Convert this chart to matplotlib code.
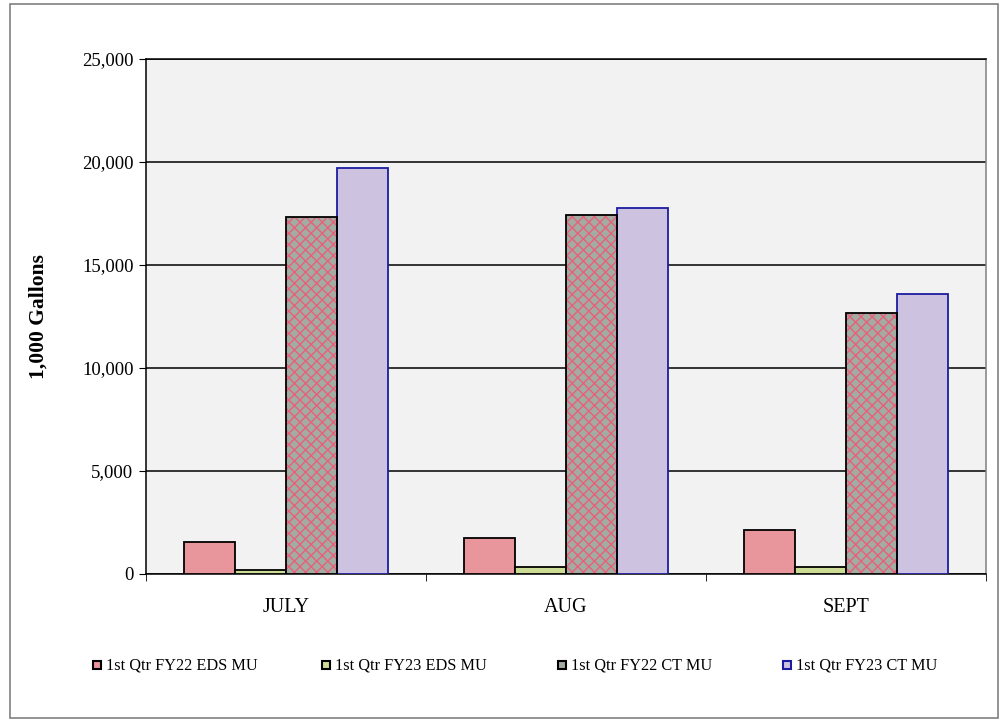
import numpy as np
import matplotlib
matplotlib.use("Agg")
import matplotlib.pyplot as plt
from matplotlib.patches import Rectangle

# Monthly usage, thousands of gallons
months = ["JULY", "AUG", "SEPT"]
series_names = ["1st Qtr FY22 EDS MU", "1st Qtr FY23 EDS MU",
                "1st Qtr FY22 CT MU", "1st Qtr FY23 CT MU"]
fy22_eds = [1570, 1760, 2130]
fy23_eds = [190, 350, 350]
fy22_ct = [17310, 17440, 12660]
fy23_ct = [19730, 17750, 13600]
y_ticks = [0, 5000, 10000, 15000, 20000, 25000]

plt.rcParams["font.family"] = ["Liberation Serif", "DejaVu Serif"]
plt.rcParams["hatch.linewidth"] = 1.0

fig = plt.figure(figsize=(10, 7.23), dpi=100)
fig.patch.set_facecolor("white")

# outer chart frame
fig.patches.append(Rectangle((10 / 1000, 1 - 718 / 723), 988 / 1000, 714 / 723,
                             transform=fig.transFigure, fill=False,
                             edgecolor="#808080", linewidth=1.2))

ax = fig.add_axes([0.146, 0.2061, 0.8397, 0.7123])
ax.set_facecolor("#f2f2f2")

x = np.arange(len(months))
bw = 0.182
offsets = (np.arange(4) - 1.5) * bw

styles = [
    dict(color="#e8969c", edgecolor="black", hatch=None, hatchcol=None),
    dict(color="#cddc94", edgecolor="black", hatch=None, hatchcol=None),
    dict(color="#a2aca2", edgecolor="black", hatch="xxx", hatchcol="#e8607a"),
    dict(color="#cdc3e0", edgecolor="#1c1ca0", hatch=None, hatchcol=None),
]
values = [fy22_eds, fy23_eds, fy22_ct, fy23_ct]

for vals, off, st in zip(values, offsets, styles):
    if st["hatch"]:
        ax.bar(x + off, vals, bw, color=st["color"], edgecolor=st["hatchcol"],
               hatch=st["hatch"], linewidth=0, zorder=3)
        ax.bar(x + off, vals, bw, fill=False, edgecolor=st["edgecolor"],
               linewidth=1.3, zorder=4)
    else:
        ax.bar(x + off, vals, bw, color=st["color"], edgecolor=st["edgecolor"],
               linewidth=1.3, zorder=3)

ax.set_xlim(-0.5, 2.5)
ax.set_ylim(0, 25000)
ax.set_yticks(y_ticks)
ax.set_yticklabels([f"{v:,}" for v in y_ticks], fontsize=13.5)
ax.yaxis.grid(True, color="black", linewidth=1.1, zorder=1)
ax.set_axisbelow(True)

ax.set_xticks(x)
ax.set_xticklabels(months, fontsize=14.5)
ax.tick_params(axis="x", length=0, pad=17)
ax.set_xticks([-0.5, 0.5, 1.5, 2.5], minor=True)
ax.tick_params(axis="x", which="minor", length=5, color="black")
ax.tick_params(axis="y", length=5, color="black", pad=4)

for side in ["left", "bottom", "top"]:
    ax.spines[side].set_color("black")
    ax.spines[side].set_linewidth(1.1)
ax.spines["right"].set_color("#808080")
ax.spines["right"].set_linewidth(1.1)

ax.set_ylabel("1,000 Gallons", fontsize=15.5, fontweight="bold", labelpad=24)

# legend row beneath the plot
leg_x = [93, 322, 558, 783]
leg_y = 665
for name, st, lx in zip(series_names, styles, leg_x):
    sq = Rectangle((lx / 1000, 1 - (leg_y + 4) / 723), 8 / 1000, 8 / 723,
                   transform=fig.transFigure, facecolor=st["color"],
                   edgecolor=st["edgecolor"], linewidth=1.5)
    fig.patches.append(sq)
    fig.text((lx + 13) / 1000, 1 - leg_y / 723, name, fontsize=11.7,
             ha="left", va="center")

fig.savefig("out.png", dpi=100)
